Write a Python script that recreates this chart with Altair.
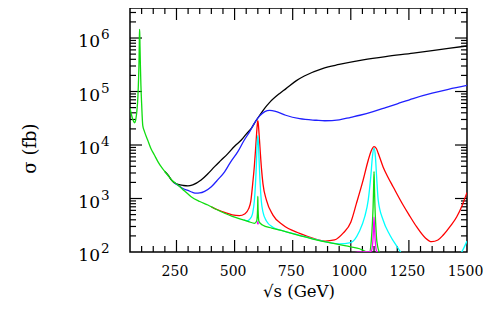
import altair as alt
import pandas as pd

# ---------------- data ----------------
green_E = [50, 55, 60, 65, 70, 75, 80, 84, 87, 89, 90, 91, 92, 93, 95, 97, 100, 105, 112, 126, 140, 155,
           170, 184, 200, 212, 230, 256, 285, 313, 350, 385, 420, 457, 490, 529, 560, 586, 595, 598, 599.5,
           600, 600.5, 602, 605, 620, 660, 708, 780, 852, 950, 1000, 1038, 1060, 1080, 1088, 1093, 1096,
           1098, 1100, 1102, 1104, 1107, 1112, 1125, 1200, 1500]
green_s = [4.9e4, 3.9e4, 3.2e4, 2.8e4, 2.6e4, 3.0e4, 4.5e4, 8e4, 1.8e5, 4e5, 8e5, 1.45e6, 1.2e6, 7e5, 2.8e5,
           1.3e5, 6e4, 2.3e4, 1.8e4, 1.24e4, 8.6e3, 6.5e3, 4.9e3, 3.93e3, 3.2e3, 2.75e3, 2.2e3, 1.79e3,
           1.38e3, 1.08e3, 880, 757, 630, 530, 465, 408, 370, 344, 380, 500, 800, 1.1e3, 800, 500, 370,
           320, 280, 247, 203, 168, 138, 125, 115, 104, 98, 160, 350, 700, 1.5e3, 3.2e3, 1.5e3, 700, 350,
           160, 98, 80, 60]

black_E = [200, 215, 227, 240, 256, 280, 299, 320, 356, 385, 414, 440, 471, 500, 529, 550, 572, 590, 608,
           630, 650, 694, 720, 766, 800, 881, 950, 1053, 1150, 1269, 1350, 1420, 1500]
black_s = [3.2e3, 2.7e3, 2.25e3, 1.98e3, 1.84e3, 1.75e3, 1.72e3, 1.8e3, 2.22e3, 2.9e3, 3.94e3, 5.1e3,
           6.9e3, 9.5e3, 1.24e4, 1.6e4, 2.05e4, 2.75e4, 3.6e4, 4.9e4, 6.2e4, 9.2e4, 1.12e5, 1.6e5, 1.95e5,
           2.72e5, 3.2e5, 3.9e5, 4.5e5, 5.2e5, 5.8e5, 6.4e5, 7.1e5]

blue_E = [240, 256, 280, 299, 320, 335, 350, 371, 400, 430, 457, 480, 514, 540, 565, 586, 608, 630, 651,
          680, 720, 780, 852, 888, 950, 1000, 1039, 1096, 1150, 1200, 1268, 1350, 1420, 1500]
blue_s = [1.98e3, 1.77e3, 1.52e3, 1.42e3, 1.3e3, 1.26e3, 1.27e3, 1.36e3, 1.66e3, 2.3e3, 3.16e3, 4.6e3,
          7.5e3, 1.2e4, 1.78e4, 2.6e4, 3.5e4, 4.2e4, 4.45e4, 4.2e4, 3.6e4, 3.1e4, 2.9e4, 2.84e4, 2.95e4,
          3.3e4, 3.6e4, 4.2e4, 5.0e4, 5.9e4, 7.4e4, 9.3e4, 1.1e5, 1.3e5]

red_E = [400, 430, 460, 490, 520, 545, 560, 570, 578, 585, 590, 595, 598, 600, 602, 605, 610, 616, 622,
         637, 665, 708, 780, 852, 890, 930, 967, 1000, 1024, 1053, 1075, 1089, 1100, 1110, 1118, 1139,
         1160, 1182, 1225, 1250, 1283, 1320, 1348, 1375, 1398, 1430, 1456, 1480, 1500]
red_s = [700, 610, 545, 495, 478, 520, 640, 900, 1.9e3, 4e3, 8e3, 1.7e4, 2.5e4, 2.85e4, 2.5e4, 1.7e4,
         8e3, 3.5e3, 1.9e3, 935, 490, 320, 223, 173, 160, 168, 225, 360, 800, 2.2e3, 5.2e3, 8e3, 9.3e3,
         8.6e3, 7e3, 3.9e3, 2.5e3, 1.66e3, 757, 500, 297, 185, 156, 168, 208, 310, 457, 760, 1.3e3]

cyan_E = [540, 557, 565, 572, 578, 585, 590, 594, 596, 598, 600, 602, 604, 606, 610, 615, 622, 637, 665,
          700, 780, 852, 950, 1000, 1036, 1060, 1075, 1086, 1093, 1100, 1106, 1111, 1118, 1139, 1168,
          1204, 1220, 1260, 1350, 1440, 1477, 1500]
cyan_s = [400, 385, 410, 450, 540, 900, 1.9e3, 4.5e3, 8e3, 1.2e4, 1.5e4, 1.2e4, 8e3, 4.5e3, 1.9e3, 900,
          560, 380, 290, 255, 205, 170, 142, 150, 239, 457, 935, 2.57e3, 6e3, 8.7e3, 6e3, 2.6e3, 935,
          396, 208, 117, 92, 70, 55, 75, 100, 160]

magenta_a_E = [597, 599, 600, 601, 603]
magenta_a_s = [335, 345, 370, 345, 330]
magenta_b_E = [1000, 1030, 1060, 1080, 1088, 1093, 1096, 1098, 1100, 1102, 1104, 1107, 1112, 1130]
magenta_b_s = [95, 99, 100, 100, 104, 130, 190, 290, 450, 290, 190, 130, 102, 92]

x_label_vals = [250, 500, 750, 1000, 1250, 1500]
x_major_ticks = [250, 500, 750, 1000, 1250]
x_minor_ticks = [100, 150, 200, 300, 350, 400, 450, 550, 600, 650, 700, 800, 850, 900, 950,
                 1050, 1100, 1150, 1200, 1300, 1350, 1400, 1450]
y_major_ticks = [1e3, 1e4, 1e5, 1e6]
y_minor_ticks = [k * 10 ** n for n in range(2, 6) for k in range(2, 10)] + [2e6, 3e6]
y_label_vals = [1e2, 1e3, 1e4, 1e5, 1e6]
y_label_exp = ["2", "3", "4", "5", "6"]

# ---------------- chart ----------------
FONT = "DejaVu Serif"
W, H = 337, 244
xscale = alt.Scale(domain=[50, 1500], nice=False, zero=False)
yscale = alt.Scale(type="log", domain=[100, 3.64e6], nice=False)

xaxis = alt.Axis(values=x_label_vals, format="d", labelOverlap=False, labelFlush=False,
                 ticks=False, tickSize=0, domain=False, grid=False, labelOffset=-2,
                 labelFont=FONT, labelFontSize=14, labelColor="black", labelPadding=12,
                 title="√s (GeV)", titleFont=FONT, titleFontSize=16.5, titleFontWeight="normal",
                 titleColor="black", titleX=W / 2, titleY=44, titleBaseline="alphabetic",
                 titleAlign="center")
yaxis = alt.Axis(labels=False, ticks=False, tickSize=0, domain=False, grid=False,
                 title="σ (fb)", titleFont=FONT, titleFontSize=18, titleFontWeight="normal",
                 titleColor="black", titleAngle=270, titleX=-100, titleY=140,
                 titleAlign="center", titleBaseline="middle")

X = alt.X("E:Q", scale=xscale, axis=xaxis)
Y = alt.Y("s:Q", scale=yscale, axis=yaxis)


def curve(E, s, color):
    df = pd.DataFrame({"E": E, "s": s})
    return alt.Chart(df).mark_line(color=color, strokeWidth=1.3, clip=True,
                                   interpolate="monotone").encode(x=X, y=Y)


def xticks(vals, length):
    df = pd.DataFrame({"E": vals})
    base = alt.Chart(df).mark_rule(color="black", strokeWidth=1.2)
    return [base.encode(x=X, y=alt.value(H), y2=alt.value(H - length)),
            base.encode(x=X, y=alt.value(0), y2=alt.value(length))]


def yticks(vals, length):
    df = pd.DataFrame({"s": vals})
    base = alt.Chart(df).mark_rule(color="black", strokeWidth=1.2)
    return [base.encode(y=Y, x=alt.value(0), x2=alt.value(length)),
            base.encode(y=Y, x=alt.value(W), x2=alt.value(W - length))]


ylab = pd.DataFrame({"s": y_label_vals, "base": ["10"] * len(y_label_vals), "exp": y_label_exp})
lab10 = alt.Chart(ylab).mark_text(align="right", baseline="alphabetic", dy=9, fontSize=17,
                                  font=FONT, color="black").encode(y=Y, x=alt.value(-30),
                                                                   text="base:N")
labexp = alt.Chart(ylab).mark_text(align="left", baseline="alphabetic", dy=1, fontSize=13.5,
                                   font=FONT, color="black").encode(y=Y, x=alt.value(-29),
                                                                    text="exp:N")

layers = []
layers += xticks(x_major_ticks, 12) + xticks(x_minor_ticks, 6)
layers += yticks(y_major_ticks, 12) + yticks(y_minor_ticks, 6)
layers += [
    curve(black_E, black_s, "#000000"),
    curve(blue_E, blue_s, "#2020ff"),
    curve(red_E, red_s, "#ff0000"),
    curve(cyan_E, cyan_s, "#00ffff"),
    curve(green_E, green_s, "#10dd10"),
    curve(magenta_a_E, magenta_a_s, "#ff00ff"),
    curve(magenta_b_E, magenta_b_s, "#ff00ff"),
    lab10, labexp,
]

chart = alt.layer(*layers).properties(
    width=W, height=H,
    autosize=alt.AutoSizeParams(type="none"),
    padding={"left": 122, "top": 0, "right": 16, "bottom": 48},
    background="white",
).configure_view(stroke="black", strokeWidth=1.5)

chart.save("out.html", embed_options={"renderer": "svg", "actions": False})
